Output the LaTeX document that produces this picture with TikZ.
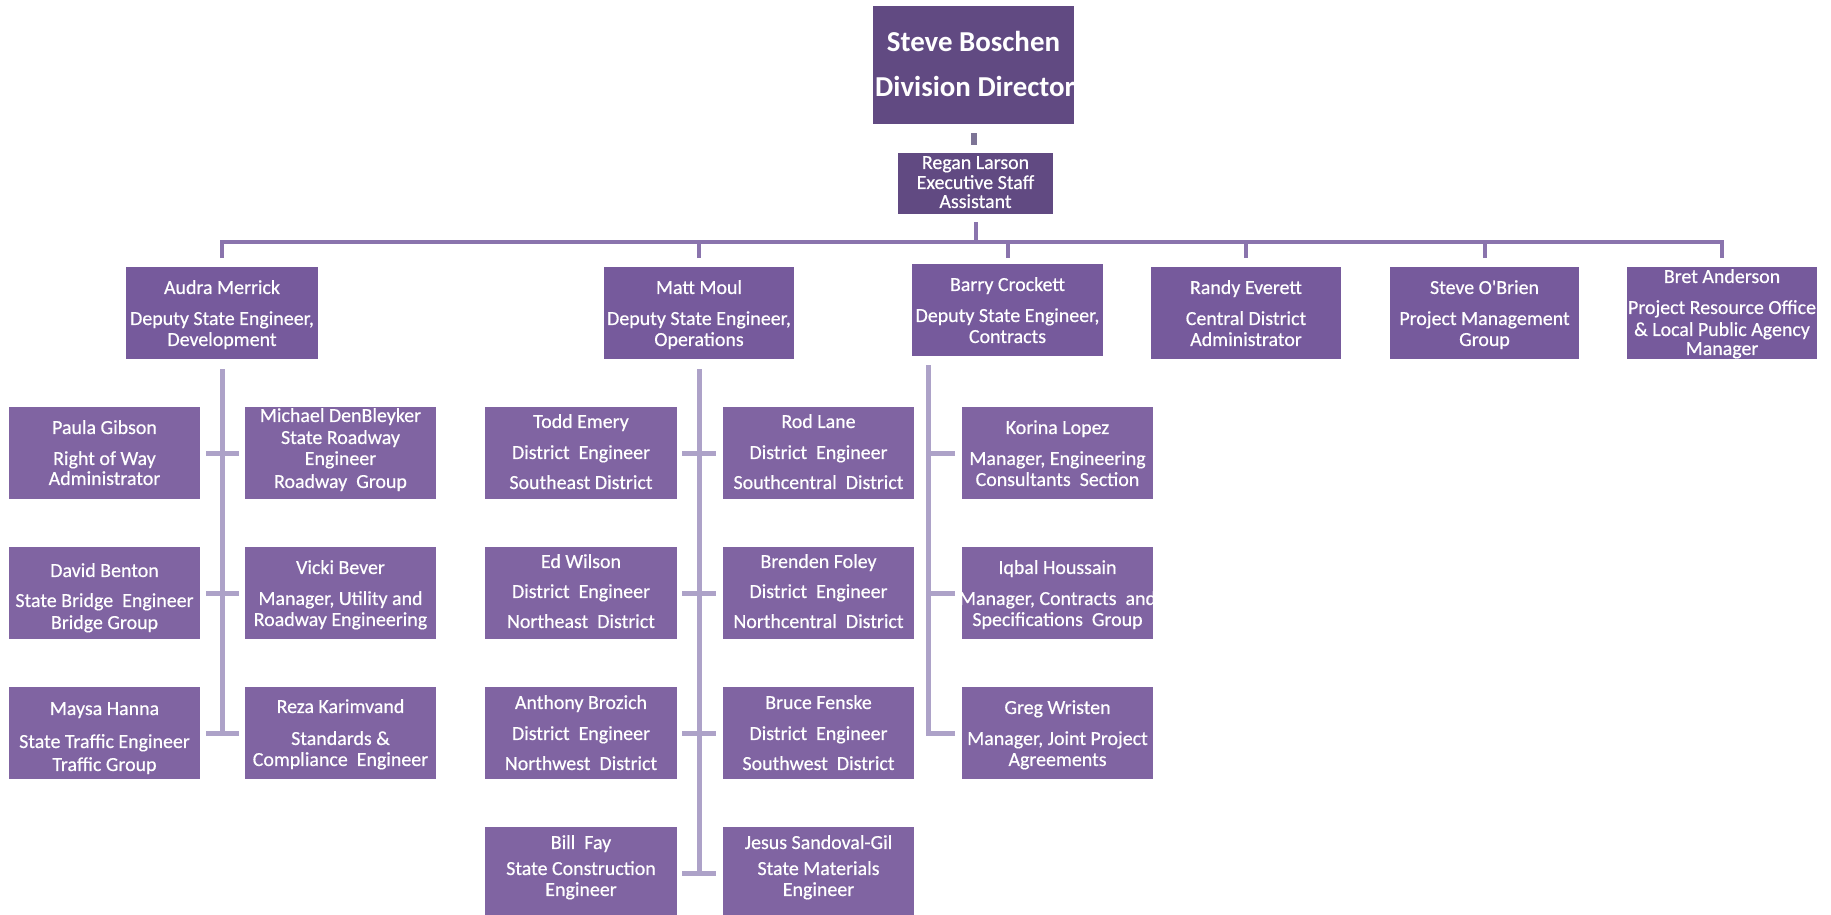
\documentclass[tikz,border=0pt]{standalone}
\usepackage{fontspec}
\setmainfont{Carlito}
\newfontfamily\boxfont{Carlito}[FakeBold=0.5]
\usetikzlibrary{fit}

\definecolor{bossfill}{HTML}{614A82}
\definecolor{headfill}{HTML}{765A9C}
\definecolor{stafffill}{HTML}{8064A2}
\definecolor{buscol}{HTML}{8A74AD}
\definecolor{stemcol}{HTML}{ADA2C8}
\definecolor{linkcol}{HTML}{7D7496}

\tikzset{
  orgrect/.style={draw=none, inner sep=0pt, outer sep=0pt},
  orgtext/.style={text=white, anchor=base, inner sep=0pt, yshift=-6pt,
    font=\boxfont\fontsize{20}{23}\selectfont},
  bosstext/.style={text=white, anchor=base, inner sep=0pt, yshift=-9pt,
    font=\fontsize{29}{34}\selectfont\bfseries},
  busline/.style={draw=buscol, line width=4bp},
  stemline/.style={draw=stemcol, line width=5bp},
  linkline/.style={draw=linkcol, line width=6bp},
}

% box: name, fill colour, x1, y1, x2, y2
\newcommand\orgbox[6]{%
  \path (#3,#4) coordinate (#1-nw) (#5,#6) coordinate (#1-se);
  \node[orgrect, fill=#2, fit=(#1-nw)(#1-se)] (#1) {};}
% one text line of a box: [options] box, y, text
\newcommand\orgline[4][]{%
  \node[orgtext,#1] (#2-#3) at (#2.center |- 0,#3) {#4};}

\begin{document}
\begin{tikzpicture}[x=1bp, y=-1bp]
\useasboundingbox (0,0) rectangle (1831,915);
\clip (0,0) rectangle (1831,915);

% ---- director and assistant
\orgbox{boss}{bossfill}{873}{6}{1074}{124}
\node[bosstext] (boss-name) at (boss.center |- 0,43) {Steve Boschen};
\node[bosstext, anchor=base west] (boss-title) at ([xshift=2bp]boss.west |- 0,88) {Division Director};

\orgbox{regan}{bossfill}{898}{153}{1053}{214}
\orgline{regan}{163}{Regan Larson}
\orgline{regan}{183}{Executive Staff}
\orgline{regan}{202}{Assistant}

% ---- first level
\orgbox{audra}{headfill}{126}{267}{318}{359}
\orgline{audra}{288}{Audra Merrick}
\orgline{audra}{319}{Deputy State Engineer,}
\orgline{audra}{340}{Development}

\orgbox{matt}{headfill}{604}{267}{794}{359}
\orgline{matt}{288}{Matt Moul}
\orgline{matt}{319}{Deputy State Engineer,}
\orgline{matt}{340}{Operations}

\orgbox{barry}{headfill}{912}{264}{1103}{356}
\orgline{barry}{285}{Barry Crockett}
\orgline{barry}{316}{Deputy State Engineer,}
\orgline{barry}{337}{Contracts}

\orgbox{randy}{headfill}{1151}{267}{1341}{359}
\orgline{randy}{288}{Randy Everett}
\orgline{randy}{319}{Central District}
\orgline{randy}{340}{Administrator}

\orgbox{obrien}{headfill}{1390}{267}{1579}{359}
\orgline{obrien}{288}{Steve O'Brien}
\orgline{obrien}{319}{Project Management}
\orgline{obrien}{340}{Group}

\orgbox{bret}{headfill}{1627}{267}{1817}{359}
\orgline{bret}{277}{Bret Anderson}
\orgline{bret}{308}{Project Resource Office}
\orgline{bret}{330}{\& Local Public Agency}
\orgline{bret}{349}{Manager}

% ---- development
\orgbox{paula}{stafffill}{9}{407}{200}{499}
\orgline{paula}{428}{Paula Gibson}
\orgline{paula}{459}{Right of Way}
\orgline{paula}{479}{Administrator}

\orgbox{michael}{stafffill}{245}{407}{436}{499}
\orgline{michael}{416}{Michael DenBleyker}
\orgline{michael}{438}{State Roadway}
\orgline{michael}{459}{Engineer}
\orgline{michael}{482}{Roadway\ \ Group}

\orgbox{david}{stafffill}{9}{547}{200}{639}
\orgline{david}{571}{David Benton}
\orgline{david}{601}{State Bridge\ \ Engineer}
\orgline{david}{623}{Bridge Group}

\orgbox{vicki}{stafffill}{245}{547}{436}{639}
\orgline{vicki}{568}{Vicki Bever}
\orgline{vicki}{599}{Manager, Utility and}
\orgline{vicki}{620}{Roadway Engineering}

\orgbox{maysa}{stafffill}{9}{687}{200}{779}
\orgline{maysa}{709}{Maysa Hanna}
\orgline{maysa}{742}{State Traffic Engineer}
\orgline{maysa}{765}{Traffic Group}

\orgbox{reza}{stafffill}{245}{687}{436}{779}
\orgline{reza}{707}{Reza Karimvand}
\orgline{reza}{739}{Standards \&}
\orgline{reza}{760}{Compliance\ \ Engineer}

% ---- operations
\orgbox{todd}{stafffill}{485}{407}{677}{499}
\orgline{todd}{422}{Todd Emery}
\orgline{todd}{453}{District\ \ Engineer}
\orgline{todd}{483}{Southeast District}

\orgbox{rod}{stafffill}{723}{407}{914}{499}
\orgline{rod}{422}{Rod Lane}
\orgline{rod}{453}{District\ \ Engineer}
\orgline{rod}{483}{Southcentral\ \ District}

\orgbox{ed}{stafffill}{485}{547}{677}{639}
\orgline{ed}{562}{Ed Wilson}
\orgline{ed}{592}{District\ \ Engineer}
\orgline{ed}{622}{Northeast\ \ District}

\orgbox{brenden}{stafffill}{723}{547}{914}{639}
\orgline{brenden}{562}{Brenden Foley}
\orgline{brenden}{592}{District\ \ Engineer}
\orgline{brenden}{622}{Northcentral\ \ District}

\orgbox{anthony}{stafffill}{485}{687}{677}{779}
\orgline{anthony}{703}{Anthony Brozich}
\orgline{anthony}{734}{District\ \ Engineer}
\orgline{anthony}{764}{Northwest\ \ District}

\orgbox{bruce}{stafffill}{723}{687}{914}{779}
\orgline{bruce}{703}{Bruce Fenske}
\orgline{bruce}{734}{District\ \ Engineer}
\orgline{bruce}{764}{Southwest\ \ District}

\orgbox{bill}{stafffill}{485}{827}{677}{920}
\orgline{bill}{843}{Bill\ \ Fay}
\orgline{bill}{869}{State Construction}
\orgline{bill}{890}{Engineer}

\orgbox{jesus}{stafffill}{723}{827}{914}{920}
\orgline{jesus}{843}{Jesus Sandoval-Gil}
\orgline{jesus}{869}{State Materials}
\orgline{jesus}{890}{Engineer}

% ---- contracts
\orgbox{korina}{stafffill}{962}{407}{1153}{499}
\orgline{korina}{428}{Korina Lopez}
\orgline{korina}{459}{Manager, Engineering}
\orgline{korina}{480}{Consultants\ \ Section}

\orgbox{iqbal}{stafffill}{962}{547}{1153}{639}
\orgline{iqbal}{568}{Iqbal Houssain}
\orgline{iqbal}{599}{Manager, Contracts\ \ and}
\orgline{iqbal}{620}{Specifications\ \ Group}

\orgbox{greg}{stafffill}{962}{687}{1153}{779}
\orgline{greg}{708}{Greg Wristen}
\orgline{greg}{739}{Manager, Joint Project}
\orgline{greg}{760}{Agreements}

% ---- connectors: director to assistant
\coordinate (lk) at ([yshift=8bp]regan.north);
\draw[linkline] ([yshift=-9bp]boss.south) -- (boss.south |- lk);

% ---- connectors: assistant to the first level
\coordinate (bus) at ([yshift=25bp]audra.north);
\draw[busline] ([yshift=9bp]audra.north) -- (bus) -| ([yshift=9bp]bret.north);
\draw[busline] ([yshift=-8bp]regan.south) -- (regan.south |- bus);
\draw[busline] ([yshift=9bp]matt.north) -- (matt.north |- bus);
\draw[busline] ([yshift=6bp]barry.north) -- (barry.north |- bus);
\draw[busline] ([yshift=9bp]randy.north) -- (randy.north |- bus);
\draw[busline] ([yshift=9bp]obrien.north) -- (obrien.north |- bus);

% ---- connectors: development
\draw[stemline] ([yshift=-10bp]audra.south) -- (audra.south |- maysa.east);
\draw[stemline] ([xshift=6bp]paula.east) -- ([xshift=-6bp]michael.west);
\draw[stemline] ([xshift=6bp]david.east) -- ([xshift=-6bp]vicki.west);
\draw[stemline] ([xshift=6bp]maysa.east) -- ([xshift=-6bp]reza.west);

% ---- connectors: operations
\draw[stemline] ([yshift=-10bp]matt.south) -- (matt.south |- bill.east);
\draw[stemline] ([xshift=5bp]todd.east) -- ([xshift=-7bp]rod.west);
\draw[stemline] ([xshift=5bp]ed.east) -- ([xshift=-7bp]brenden.west);
\draw[stemline] ([xshift=5bp]anthony.east) -- ([xshift=-7bp]bruce.west);
\draw[stemline] ([xshift=5bp]bill.east) -- ([xshift=-7bp]jesus.west);

% ---- connectors: contracts
\coordinate (ctop) at ([xshift=16bp,yshift=-9bp]barry.south west);
\draw[stemline] (ctop) |- ([xshift=-7bp]greg.west);
\draw[stemline] (ctop |- korina.west) -- ([xshift=-7bp]korina.west);
\draw[stemline] (ctop |- iqbal.west) -- ([xshift=-7bp]iqbal.west);
\end{tikzpicture}
\end{document}
